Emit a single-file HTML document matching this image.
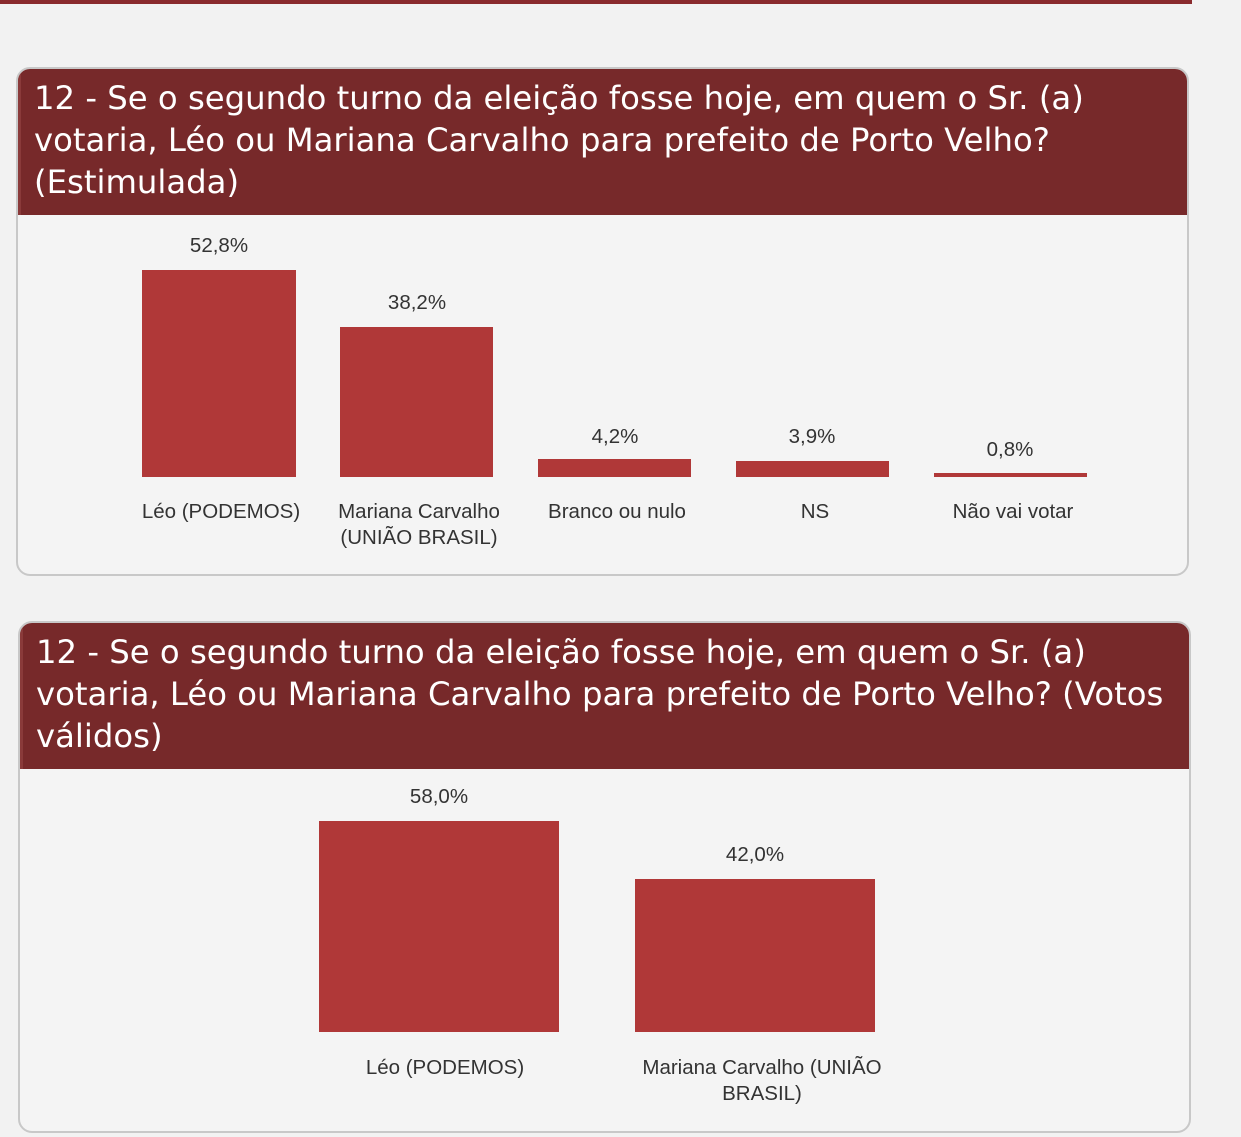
<!DOCTYPE html>
<html><head><meta charset="utf-8"><style>
body{margin:0;width:1241px;height:1137px;background:#f2f2f2;position:relative;overflow:hidden;font-family:"Liberation Sans","DejaVu Sans",sans-serif;}
.topbar{position:absolute;left:0;top:0;width:1192px;height:4px;background:#8a2b2e;}
.panel{position:absolute;background:#f4f4f4;border:2px solid #c8c8c8;border-radius:14px;overflow:hidden;box-sizing:border-box;}
.hdr{position:absolute;left:0;top:0;right:0;background:#77292a;color:#fff;font-family:"DejaVu Sans",sans-serif;font-size:32.3px;line-height:42px;padding:8px 0 0 13px;box-sizing:border-box;border-left:3px solid #8a3a3a;white-space:nowrap;}
.bar{position:absolute;background:#b03838;}
.t{position:absolute;font-size:20.5px;color:#333;text-align:center;line-height:26px;transform:translateX(-50%);white-space:nowrap;}
</style></head><body>
<div class="topbar"></div>
<div class="panel" style="left:16px;top:67px;width:1173px;height:509px;">
 <div class="hdr" style="height:146px;">12 - Se o segundo turno da eleição fosse hoje, em quem o Sr. (a)<br>votaria, Léo ou Mariana Carvalho para prefeito de Porto Velho?<br>(Estimulada)</div>
</div>
<div class="bar" style="left:142px;top:270px;width:154px;height:207px"></div>
<div class="bar" style="left:340px;top:327px;width:153px;height:150px"></div>
<div class="bar" style="left:538px;top:459px;width:153px;height:18px"></div>
<div class="bar" style="left:736px;top:461px;width:153px;height:16px"></div>
<div class="bar" style="left:934px;top:473px;width:153px;height:4px"></div>
<div class="t" style="left:219px;top:233px">52,8%</div>
<div class="t" style="left:417px;top:290px">38,2%</div>
<div class="t" style="left:615px;top:424px">4,2%</div>
<div class="t" style="left:812px;top:424px">3,9%</div>
<div class="t" style="left:1010px;top:437px">0,8%</div>
<div class="t" style="left:221px;top:499px">Léo (PODEMOS)</div>
<div class="t" style="left:419px;top:499px">Mariana Carvalho<br>(UNIÃO BRASIL)</div>
<div class="t" style="left:617px;top:499px">Branco ou nulo</div>
<div class="t" style="left:815px;top:499px">NS</div>
<div class="t" style="left:1013px;top:499px">Não vai votar</div>

<div class="panel" style="left:18px;top:621px;width:1173px;height:512px;">
 <div class="hdr" style="height:146px;">12 - Se o segundo turno da eleição fosse hoje, em quem o Sr. (a)<br>votaria, Léo ou Mariana Carvalho para prefeito de Porto Velho? (Votos<br>válidos)</div>
</div>
<div class="bar" style="left:319px;top:821px;width:240px;height:211px"></div>
<div class="bar" style="left:635px;top:879px;width:240px;height:153px"></div>
<div class="t" style="left:439px;top:784px">58,0%</div>
<div class="t" style="left:755px;top:842px">42,0%</div>
<div class="t" style="left:445px;top:1055px">Léo (PODEMOS)</div>
<div class="t" style="left:762px;top:1055px">Mariana Carvalho (UNIÃO<br>BRASIL)</div>
</body></html>
